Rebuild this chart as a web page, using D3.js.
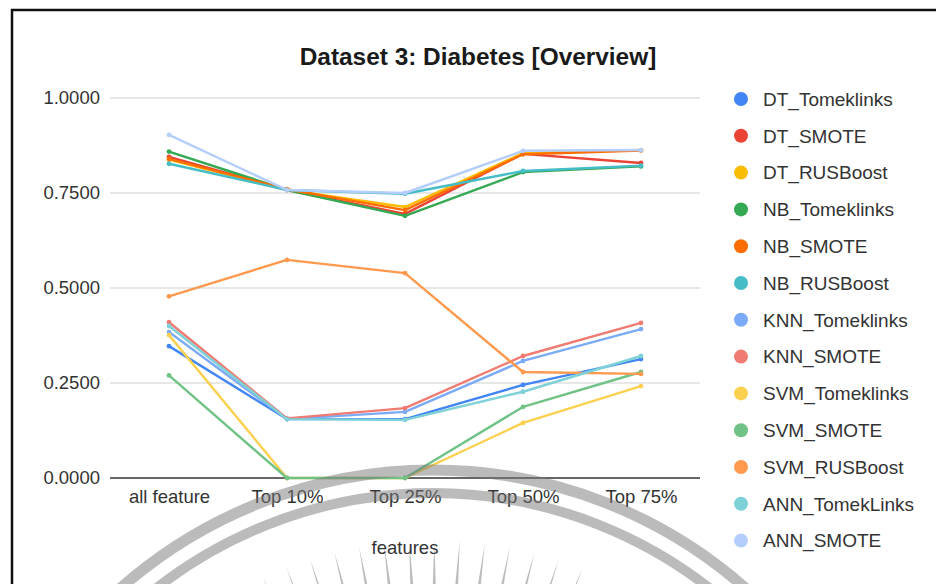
<!DOCTYPE html>
<html>
<head>
<meta charset="utf-8">
<script src="https://cdn.jsdelivr.net/npm/d3@7"></script>
<style>
  html, body { margin: 0; padding: 0; background: #fff; }
  svg { display: block; font-family: "Liberation Sans", Arial, sans-serif; }
</style>
</head>
<body>
<svg id="chart" width="936" height="584"></svg>
<script>
// Feature-selection levels along the x axis
const categories = ["all feature", "Top 10%", "Top 25%", "Top 50%", "Top 75%"];

// One score per feature level for every classifier / resampling combination
const DT_Tomeklinks  = [0.347, 0.155, 0.155, 0.245, 0.313];
const DT_SMOTE       = [0.845, 0.758, 0.695, 0.853, 0.829];
const DT_RUSBoost    = [0.838, 0.758, 0.713, 0.855, 0.863];
const NB_Tomeklinks  = [0.859, 0.758, 0.690, 0.805, 0.820];
const NB_SMOTE       = [0.840, 0.760, 0.705, 0.852, 0.862];
const NB_RUSBoost    = [0.827, 0.758, 0.748, 0.808, 0.822];
const KNN_Tomeklinks = [0.384, 0.155, 0.174, 0.308, 0.392];
const KNN_SMOTE      = [0.410, 0.157, 0.184, 0.321, 0.408];
const SVM_Tomeklinks = [0.376, 0.000, 0.000, 0.145, 0.242];
const SVM_SMOTE      = [0.270, 0.000, 0.000, 0.187, 0.279];
const SVM_RUSBoost   = [0.478, 0.574, 0.539, 0.279, 0.274];
const ANN_TomekLinks = [0.400, 0.155, 0.153, 0.227, 0.321];
const ANN_SMOTE      = [0.903, 0.758, 0.750, 0.861, 0.863];

const seriesNames = ["DT_Tomeklinks", "DT_SMOTE", "DT_RUSBoost", "NB_Tomeklinks", "NB_SMOTE",
  "NB_RUSBoost", "KNN_Tomeklinks", "KNN_SMOTE", "SVM_Tomeklinks", "SVM_SMOTE",
  "SVM_RUSBoost", "ANN_TomekLinks", "ANN_SMOTE"];
const seriesValues = [DT_Tomeklinks, DT_SMOTE, DT_RUSBoost, NB_Tomeklinks, NB_SMOTE,
  NB_RUSBoost, KNN_Tomeklinks, KNN_SMOTE, SVM_Tomeklinks, SVM_SMOTE,
  SVM_RUSBoost, ANN_TomekLinks, ANN_SMOTE];
const seriesColors = ["#4285F4", "#EA4335", "#FBBC04", "#34A853", "#FF6D01", "#46BDC6",
  "#7BAAF7", "#F07B72", "#FCD04F", "#71C287", "#FF994D", "#7ED1D7", "#B3CEFB"];

const yTicks = [0, 0.25, 0.5, 0.75, 1.0];
const titleText = "Dataset 3: Diabetes [Overview]";
const xAxisTitle = "features";

const series = seriesNames.map((name, i) => ({ name, values: seriesValues[i], color: seriesColors[i] }));

const svg = d3.select("#chart");

// outer frame
svg.append("rect")
  .attr("x", 12).attr("y", 10)
  .attr("width", 960).attr("height", 620)
  .attr("fill", "#fff").attr("stroke", "#111").attr("stroke-width", 2.5);

const x = d3.scalePoint().domain(categories).range([110, 700]).padding(0.5);
const y = d3.scaleLinear().domain([0, 1]).range([478, 98]);

// title
svg.append("text")
  .attr("x", 478).attr("y", 65)
  .attr("text-anchor", "middle")
  .attr("font-size", 24.4).attr("font-weight", "bold").attr("fill", "#1a1a1a")
  .text(titleText);

// horizontal gridlines
svg.append("g").selectAll("line")
  .data(yTicks.filter(t => t > 0))
  .join("line")
  .attr("x1", 110).attr("x2", 700)
  .attr("y1", d => y(d)).attr("y2", d => y(d))
  .attr("stroke", "#cfcfcf").attr("stroke-width", 1);

// y axis labels
const yAxis = d3.axisLeft(y).tickValues(yTicks).tickFormat(d3.format(".4f")).tickSize(0).tickPadding(10);
const gy = svg.append("g").attr("transform", "translate(110,0)").call(yAxis);
gy.select(".domain").remove();
gy.selectAll("text").attr("font-size", 18.5).attr("fill", "#333").attr("font-family", "Liberation Sans, Arial, sans-serif");

// baseline
svg.append("line")
  .attr("x1", 110).attr("x2", 700)
  .attr("y1", y(0)).attr("y2", y(0))
  .attr("stroke", "#333").attr("stroke-width", 1.5);

// x axis labels
const xAxis = d3.axisBottom(x).tickSize(0).tickPadding(12);
const gx = svg.append("g").attr("transform", `translate(0,${y(0)})`).call(xAxis);
gx.select(".domain").remove();
gx.selectAll("text").attr("font-size", 18.5).attr("fill", "#333").attr("font-family", "Liberation Sans, Arial, sans-serif");

svg.append("text")
  .attr("x", 405).attr("y", 554)
  .attr("text-anchor", "middle")
  .attr("font-size", 18.5).attr("fill", "#333")
  .text(xAxisTitle);

// series lines
const line = d3.line()
  .x((d, i) => x(categories[i]))
  .y(d => y(d));

const gLines = svg.append("g");
series.forEach(s => {
  gLines.append("path")
    .datum(s.values)
    .attr("d", line)
    .attr("fill", "none")
    .attr("stroke", s.color)
    .attr("stroke-width", 2.4)
    .attr("stroke-linejoin", "round");
  gLines.append("g").selectAll("circle")
    .data(s.values)
    .join("circle")
    .attr("cx", (d, i) => x(categories[i]))
    .attr("cy", d => y(d))
    .attr("r", 2.4)
    .attr("fill", s.color);
});

// legend
const legend = svg.append("g").attr("transform", "translate(741,99)");
const rows = legend.selectAll("g")
  .data(series)
  .join("g")
  .attr("transform", (d, i) => `translate(0,${i * 36.8})`);
rows.append("circle").attr("r", 7).attr("fill", d => d.color);
rows.append("text")
  .attr("x", 22).attr("dy", "0.36em")
  .attr("font-size", 19).attr("fill", "#333")
  .text(d => d.name);

// seal-like grey decoration drawn over the lower part
const seal = svg.append("g").attr("fill", "none").attr("stroke", "#777").attr("stroke-opacity", 0.5);
const cx = 433, cy = 942;
[{ r: 472, w: 11 }, { r: 449, w: 10 }].forEach(ring => {
  seal.append("circle").attr("cx", cx).attr("cy", cy).attr("r", ring.r).attr("stroke-width", ring.w);
});
const rayAngles = d3.range(-25, 25.1, 3.6);
seal.selectAll("path.ray")
  .data(rayAngles)
  .join("path")
  .attr("class", "ray")
  .attr("stroke", "none")
  .attr("fill", "#777").attr("fill-opacity", 0.5)
  .attr("d", a => {
    const rad = a * Math.PI / 180;
    const tipR = 402, baseR = 300, half = 0.011;
    const p = (r, t) => [cx + r * Math.sin(t), cy - r * Math.cos(t)];
    const tip = p(tipR, rad), b1 = p(baseR, rad - half), b2 = p(baseR, rad + half);
    return `M${tip}L${b1}L${b2}Z`;
  });
</script>
</body>
</html>
